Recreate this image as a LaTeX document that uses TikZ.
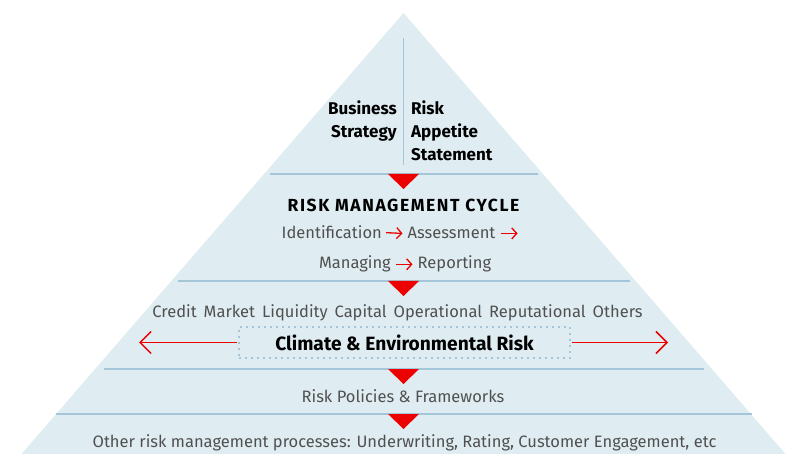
\documentclass[tikz,border=0pt]{standalone}
\usepackage{fontspec}
\setmainfont{Fira Sans}
\usetikzlibrary{arrows.meta, positioning}
\definecolor{pyrfill}{RGB}{223, 237, 242}
\definecolor{pyrline}{RGB}{164, 198, 216}
\definecolor{sanred}{RGB}{236, 0, 0}
\definecolor{txtgray}{RGB}{80, 80, 80}
\newcommand{\riskgap}{\hspace{7pt}}

\begin{document}
\begin{tikzpicture}[
    x=1pt, y=-1pt,
    head/.style={
        font=\fontsize{17}{23}\selectfont\bfseries,
        text=black,
        inner sep=0pt
    },
    item/.style={
        font=\fontsize{16.5}{23}\selectfont,
        text=txtgray,
        inner sep=0pt
    },
    divider/.style={draw=pyrline, line width=1.6pt},
    marker/.style={fill=sanred},
    redarrow/.style={draw=sanred, line width=1.3pt, -{Straight Barb[length=5pt, width=11pt]}},
    bigarrow/.style={draw=sanred, line width=1.5pt, -{Straight Barb[length=11pt, width=22pt]}},
    dotbox/.style={
        draw=pyrline,
        line width=1.8pt,
        dash pattern=on 1.8pt off 4.2pt,
        minimum width=331pt,
        minimum height=31pt
    }
]
    \useasboundingbox (0,0) rectangle (787,454);

    % Pyramid
    \fill[pyrfill] (403.5,13) -- (785.5,454) -- (21.5,454) -- cycle;
    \draw[divider] (403.5,38) -- (403.5,165);
    \foreach \y/\w in {174/134, 281/226, 369/300, 414/348}
        \draw[divider] (403.5-\w,\y) -- (403.5+\w,\y);
    \foreach \y in {174, 281, 369, 414}
        \fill[marker] (388,\y) -- (419,\y) -- (403.5,\y+15) -- cycle;

    % Nodos
    \node[head, align=right, anchor=north east] (business) at (397,100.5) {Business\\Strategy};
    \node[head, align=left, anchor=north west] (appetite) at (411,100.5) {Risk\\Appetite\\Statement};

    \node[head, font=\fontsize{17.5}{23}\selectfont\bfseries\addfontfeature{LetterSpace=9}, anchor=base] (cycle) at (403.5,212) {RISK MANAGEMENT CYCLE};
    \node[item, anchor=base east] (ident) at (382,239) {Identification};
    \node[item, anchor=base west] (assess) at (407.5,239) {Assessment};
    \coordinate[right=22pt of assess] (loopback);
    \node[item, anchor=base east] (manag) at (391,269) {Managing};
    \node[item, anchor=base west] (report) at (417.5,269) {Reporting};

    \node[item, anchor=base] (types) at (397.5,318) {Credit\riskgap Market\riskgap Liquidity\riskgap Capital\riskgap Operational\riskgap Reputational\riskgap Others};
    \node[head, font=\fontsize{19.2}{23}\selectfont\bfseries, dotbox] (climate) at (404.5,342.5) {Climate \& Environmental Risk};
    \coordinate (leftend) at (139,342.5);
    \coordinate (rightend) at (668,342.5);

    \node[item, anchor=base] (policies) at (403,402) {Risk Policies \& Frameworks};
    \node[item, anchor=base] (processes) at (404.5,447) {Other risk management processes: Underwriting, Rating, Customer Engagement, etc};

    % Conexiones
    \draw[redarrow] ([xshift=4pt]ident.east) -- ([xshift=-5pt]assess.west);
    \draw[redarrow] ([xshift=5pt]assess.east) -- (loopback);
    \draw[redarrow] ([xshift=5pt]manag.east) -- ([xshift=-5pt]report.west);
    \draw[bigarrow] ([xshift=-1pt]climate.west) -- (leftend);
    \draw[bigarrow] ([xshift=1pt]climate.east) -- (rightend);
\end{tikzpicture}
\end{document}
